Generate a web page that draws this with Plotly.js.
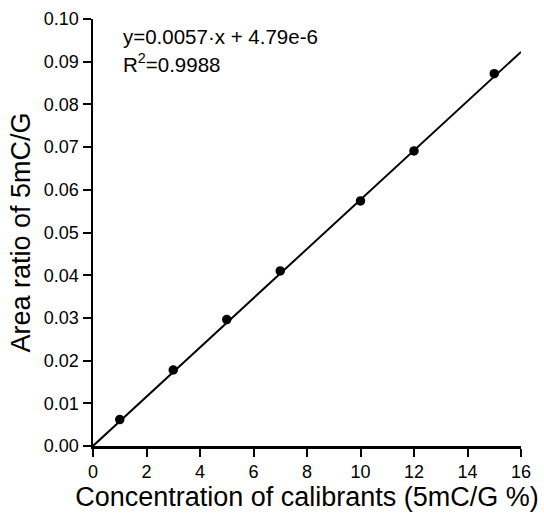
<!DOCTYPE html>
<html>
<head>
<meta charset="utf-8">
<script src="https://cdn.plot.ly/plotly-3.0.1.min.js"></script>
<style>html,body{margin:0;padding:0;background:#fff;}#chart{width:544px;height:514px;}</style>
</head>
<body>
<div id="chart"></div>
<script>
// Calibration points
const concentration = [1, 3, 5, 7, 10, 12, 15];
const areaRatio = [0.0062, 0.0178, 0.0296, 0.0410, 0.0574, 0.0691, 0.0872];
// Fitted line endpoints
const fitX = [0, 16];
const fitY = [0.0000048, 0.0923];
const xTicks = [0, 2, 4, 6, 8, 10, 12, 14, 16];
const yTicks = [0, 0.01, 0.02, 0.03, 0.04, 0.05, 0.06, 0.07, 0.08, 0.09, 0.10];
const eqText = "y=0.0057·x + 4.79e-6";
const r2Text = "R<sup>2</sup>=0.9988";

const font = "Liberation Sans, Arial, sans-serif";
const data = [
  {x: fitX, y: fitY, mode: 'lines', line: {color: '#000', width: 2}, hoverinfo: 'skip', cliponaxis: false},
  {x: concentration, y: areaRatio, mode: 'markers', marker: {color: '#000', size: 9.5}, cliponaxis: false}
];
const layout = {
  width: 544, height: 514,
  margin: {l: 93, r: 23, t: 19, b: 68},
  paper_bgcolor: '#fff', plot_bgcolor: '#fff',
  showlegend: false,
  font: {family: font, color: '#000'},
  xaxis: {
    range: [0, 16], tickvals: xTicks, ticktext: xTicks.map(String),
    showgrid: false, zeroline: false, showline: true, linecolor: '#000', linewidth: 2.5,
    ticks: 'outside', ticklen: 8, tickwidth: 2, tickcolor: '#000',
    tickfont: {size: 18, family: font},
    title: {text: 'Concentration of calibrants (5mC/G %)', font: {size: 27, family: font}, standoff: 5}
  },
  yaxis: {
    range: [0, 0.10], tickvals: yTicks, ticktext: yTicks.map(v => v.toFixed(2)),
    showgrid: false, zeroline: false, showline: true, linecolor: '#000', linewidth: 2.5,
    ticks: 'outside', ticklen: 8, tickwidth: 2, tickcolor: '#000',
    tickfont: {size: 18, family: font},
    title: {text: 'Area ratio of 5mC/G', font: {size: 27, family: font}, standoff: 6}
  },
  annotations: [
    {xref: 'paper', yref: 'paper', x: 0.066, y: 0.960, xanchor: 'left', yanchor: 'middle', text: eqText, showarrow: false, font: {size: 20.5, family: font}},
    {xref: 'paper', yref: 'paper', x: 0.066, y: 0.897, xanchor: 'left', yanchor: 'middle', text: r2Text, showarrow: false, font: {size: 20.5, family: font}}
  ]
};
Plotly.newPlot('chart', data, layout, {displayModeBar: false, staticPlot: true});
</script>
</body>
</html>
